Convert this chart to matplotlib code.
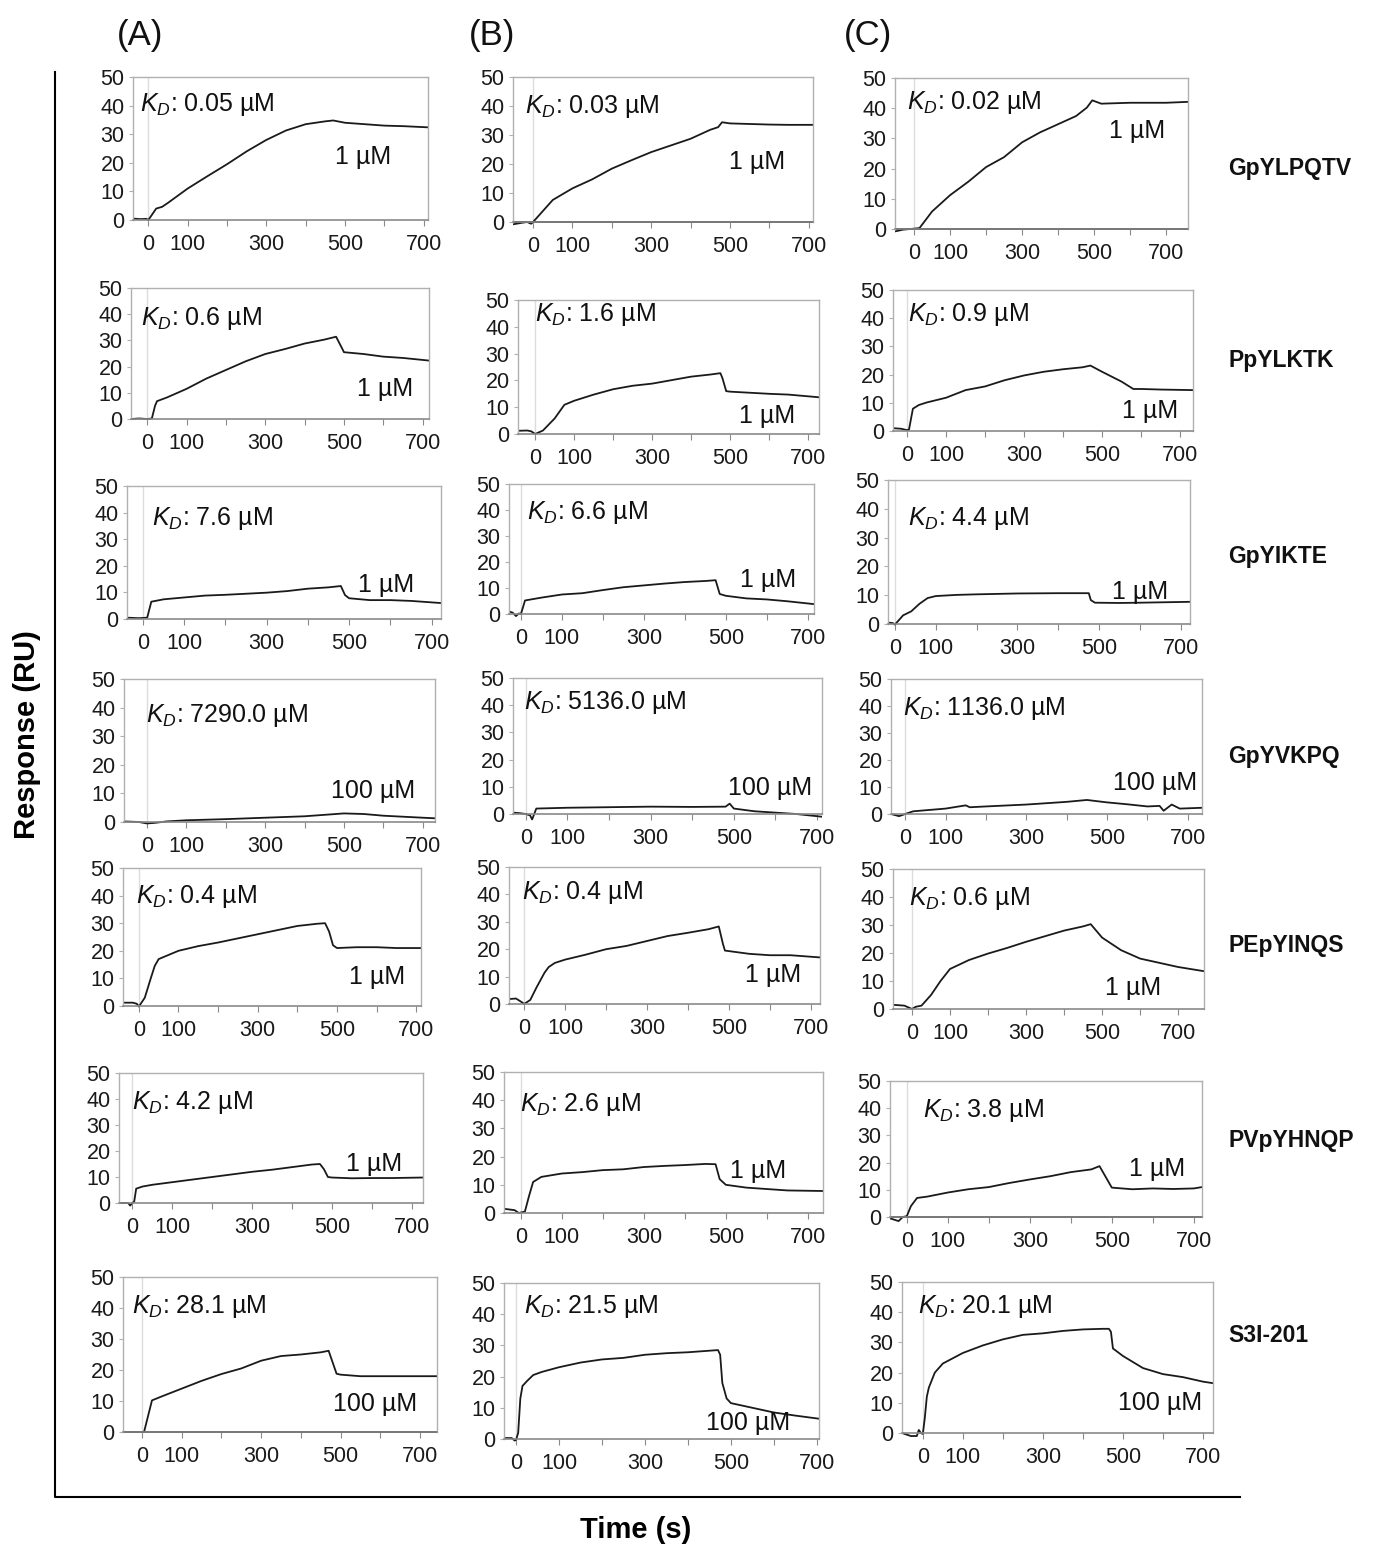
"""SPR sensorgrams, 7 peptides x 3 proteins"""

import matplotlib.pyplot as plt
import matplotlib.ticker as ticker
from matplotlib.lines import Line2D

W, H = 1385, 1546

peptides = ["GpYLPQTV", "PpYLKTK", "GpYIKTE", "GpYVKPQ", "PEpYINQS", "PVpYHNQP", "S3I-201"]
columns = ["(A)", "(B)", "(C)"]
kd_A = ["0.05", "0.6", "7.6", "7290.0", "0.4", "4.2", "28.1"]
kd_B = ["0.03", "1.6", "6.6", "5136.0", "0.4", "2.6", "21.5"]
kd_C = ["0.02", "0.9", "4.4", "1136.0", "0.6", "3.8", "20.1"]
conc = ["1 µM", "1 µM", "1 µM", "100 µM", "1 µM", "1 µM", "100 µM"]
x_labels = [0, 100, 300, 500, 700]

# sensorgrams: time (s), response (RU)
t_A1 = [-39, -20, -5, 0, 10, 20, 35, 50, 100, 150, 200, 250, 300, 350, 400, 450, 470, 500, 550, 600, 650, 711]
ru_A1 = [0.5, 0.3, 0.4, 0, 2, 4, 4.6, 6, 11, 15.3, 19.5, 24, 28, 31.3, 33.5, 34.5, 34.8, 34, 33.5, 33, 32.8, 32.4]
t_B1 = [-51, -30, -15, -5, 0, 50, 100, 150, 200, 250, 300, 350, 400, 450, 470, 480, 500, 550, 600, 650, 711]
ru_B1 = [-0.8, -0.3, 0, -0.6, 0, 7.6, 11.6, 14.7, 18.4, 21.3, 24.1, 26.4, 28.7, 31.8, 32.7, 34.4, 34, 33.8, 33.6, 33.5, 33.5]
t_C1 = [-53, -30, -10, 15, 50, 100, 150, 200, 250, 300, 350, 400, 450, 480, 495, 520, 600, 700, 761]
ru_C1 = [-0.8, -0.2, 0, 0.3, 5.8, 11.2, 15.6, 20.5, 23.8, 28.7, 32, 34.7, 37.4, 40.2, 42.6, 41.5, 41.8, 41.8, 42.1]

t_A2 = [-41, -20, 0, 12, 20, 25, 50, 100, 150, 200, 250, 300, 350, 400, 450, 480, 495, 500, 550, 600, 650, 716]
ru_A2 = [0, 0.2, 0, 0.2, 5, 6.8, 8.2, 11.5, 15.4, 18.7, 22, 24.8, 26.7, 28.8, 30.3, 31.4, 27, 25.5, 24.8, 23.8, 23.3, 22.3]
t_B2 = [-44, -20, -10, 0, 20, 50, 75, 100, 150, 200, 250, 300, 350, 400, 450, 475, 480, 490, 500, 550, 600, 650, 728]
ru_B2 = [1.2, 1.3, 1, 0, 1.3, 5.8, 10.9, 12.4, 14.7, 16.7, 18, 18.8, 20.1, 21.4, 22.2, 22.7, 21, 16, 15.8, 15.4, 15, 14.7, 13.7]
t_C2 = [-36, -15, 0, 5, 15, 30, 50, 100, 150, 200, 250, 300, 350, 400, 450, 470, 500, 550, 580, 600, 650, 733]
ru_C2 = [1, 0.8, 0.3, 0.5, 7.9, 9.2, 10.1, 11.8, 14.5, 15.8, 18, 19.7, 21, 21.9, 22.6, 23.2, 21, 17.5, 14.9, 14.9, 14.7, 14.5]

t_A3 = [-39, -10, 10, 20, 50, 100, 150, 200, 250, 300, 350, 400, 450, 480, 490, 500, 550, 600, 650, 723]
ru_A3 = [0.5, 0.3, 0.5, 6.5, 7.4, 8.1, 8.8, 9.1, 9.5, 9.9, 10.5, 11.4, 11.9, 12.4, 9, 7.8, 7.1, 7.1, 6.8, 6]
t_B3 = [-29, -20, -12, -5, 0, 5, 10, 50, 100, 150, 200, 250, 300, 350, 400, 450, 475, 485, 500, 550, 600, 650, 715]
ru_B3 = [1, 0.5, -0.8, 0.2, 0, 2.5, 5.2, 6.3, 7.5, 8, 9.2, 10.3, 11, 11.7, 12.3, 12.7, 13, 7.7, 7, 6, 5.6, 4.9, 3.8]
t_C3 = [-17, -5, 0, 20, 40, 60, 80, 100, 150, 200, 300, 400, 475, 480, 490, 550, 600, 723]
ru_C3 = [0.5, 0.3, -0.2, 3, 4.4, 7, 9, 9.7, 10.1, 10.3, 10.6, 10.7, 10.7, 8.3, 7.4, 7.3, 7.4, 7.7]

t_A4 = [-58, -20, 0, 20, 50, 100, 200, 300, 400, 500, 550, 600, 700, 731]
ru_A4 = [0.2, 0, -0.5, -0.3, 0.2, 0.6, 1, 1.5, 2, 3, 2.8, 2.2, 1.5, 1.3]
t_B4 = [-31, -15, 0, 10, 15, 25, 100, 200, 300, 400, 480, 490, 500, 550, 600, 650, 712]
ru_B4 = [0.5, 0.3, 0, -0.5, -2, 2, 2.3, 2.5, 2.7, 2.6, 2.7, 3.8, 2, 1, 0.5, 0, -1]
t_C4 = [-35, -15, 0, 20, 100, 150, 160, 200, 300, 400, 450, 500, 550, 600, 630, 640, 660, 680, 735]
ru_C4 = [0, -0.8, 0, 1, 2, 3.2, 2.5, 2.8, 3.5, 4.5, 5.2, 4.3, 3.6, 2.8, 3, 1.2, 3.5, 2, 2.3]

t_A5 = [-40, -15, -5, 0, 15, 30, 40, 50, 75, 100, 150, 200, 250, 300, 350, 400, 450, 470, 480, 490, 500, 550, 600, 650, 712]
ru_A5 = [1.2, 1.2, 0.8, -0.2, 3, 10, 14.5, 17, 18.5, 20, 21.7, 23, 24.5, 26, 27.5, 29, 29.8, 30, 27, 22, 21, 21.3, 21.3, 21, 21]
t_B5 = [-37, -20, -5, 0, 15, 30, 50, 60, 75, 100, 150, 200, 250, 300, 350, 400, 450, 475, 485, 490, 500, 550, 600, 650, 722]
ru_B5 = [1.8, 2, 0.6, 0, 1.5, 6, 11.5, 13.5, 15, 16.2, 18, 20, 21.2, 23, 24.8, 26, 27.3, 28.3, 22, 19.5, 19.3, 18.3, 17.8, 17.8, 17]
t_C5 = [-50, -20, 0, 10, 25, 50, 75, 100, 150, 200, 250, 300, 350, 400, 450, 470, 500, 550, 600, 650, 700, 768]
ru_C5 = [1.5, 1.2, 0, 0.8, 1.2, 5, 10, 14.3, 17.5, 19.8, 21.8, 24, 26, 28, 29.5, 30.3, 25.5, 21, 18, 16.5, 15, 13.5]

t_A6 = [-33, -10, -5, 0, 5, 10, 25, 50, 100, 150, 200, 250, 300, 350, 400, 450, 470, 480, 490, 500, 550, 600, 650, 728]
ru_A6 = [0, 0, -1, 0, 0.5, 5.5, 6.3, 7, 8, 9, 10, 11, 12, 12.8, 13.8, 14.8, 15, 13, 10, 9.8, 9.5, 9.6, 9.6, 9.8]
t_B6 = [-41, -15, -5, 10, 20, 30, 50, 100, 150, 200, 250, 300, 350, 400, 450, 475, 485, 500, 550, 600, 650, 737]
ru_B6 = [1.5, 1, 0, 0.5, 6, 11, 12.8, 14, 14.5, 15.2, 15.5, 16.3, 16.7, 17, 17.4, 17.3, 12, 10, 9, 8.5, 8, 7.8]
t_C6 = [-41, -20, -10, 0, 10, 25, 50, 100, 150, 200, 250, 300, 350, 400, 450, 470, 500, 550, 600, 650, 700, 720]
ru_C6 = [-0.5, -1.5, 0, 0.3, 4, 7, 7.5, 9, 10.2, 11, 12.5, 13.8, 15, 16.5, 17.5, 18.7, 10.8, 10.2, 10.5, 10.3, 10.5, 11]

t_A7 = [-48, 5, 25, 50, 100, 150, 200, 250, 300, 350, 400, 450, 470, 490, 500, 550, 600, 650, 743]
ru_A7 = [0, 0, 10.2, 11.5, 14, 16.5, 18.7, 20.5, 23, 24.5, 25, 25.7, 26.2, 18.8, 18.5, 18, 18, 18, 18]
t_B7 = [-28, -10, -3, 0, 5, 10, 15, 25, 40, 60, 100, 150, 200, 250, 300, 350, 400, 450, 470, 475, 480, 490, 500, 550, 600, 650, 705]
ru_B7 = [0.3, 0.3, -0.5, -0.3, 2, 13, 17, 18.5, 20.5, 21.5, 23, 24.5, 25.5, 26, 27, 27.5, 27.8, 28.3, 28.5, 27, 18, 13, 11.5, 10, 8.5, 7.5, 6.5]
t_C7 = [-52, -30, -15, -10, -5, 0, 5, 10, 15, 30, 50, 100, 150, 200, 250, 300, 350, 400, 450, 465, 470, 475, 500, 550, 600, 650, 700, 725]
ru_C7 = [0, -1, -1, 1, 0, -0.3, 5, 12, 15, 20, 23, 26.5, 29, 31, 32.5, 33, 33.8, 34.3, 34.5, 34.5, 33.5, 28, 25.5, 21.5, 19.5, 18.5, 17, 16.5]

series = [
    [(t_A1, ru_A1), (t_B1, ru_B1), (t_C1, ru_C1)],
    [(t_A2, ru_A2), (t_B2, ru_B2), (t_C2, ru_C2)],
    [(t_A3, ru_A3), (t_B3, ru_B3), (t_C3, ru_C3)],
    [(t_A4, ru_A4), (t_B4, ru_B4), (t_C4, ru_C4)],
    [(t_A5, ru_A5), (t_B5, ru_B5), (t_C5, ru_C5)],
    [(t_A6, ru_A6), (t_B6, ru_B6), (t_C6, ru_C6)],
    [(t_A7, ru_A7), (t_B7, ru_B7), (t_C7, ru_C7)],
]
kds = [kd_A, kd_B, kd_C]

# layout in pixels: (left, right, y of 50, y of 0), x limits
boxes = [
    [(133, 428, 77, 220), (513, 813, 77, 222), (895, 1188, 78, 229)],
    [(131, 429, 288, 419), (518, 819, 300, 434), (893, 1193, 290, 431)],
    [(127, 441, 486, 619), (509, 814, 484, 614), (888, 1190, 480, 624)],
    [(124, 435, 679, 822), (513, 822, 678, 814), (891, 1202, 679, 814)],
    [(123, 421, 868, 1006), (509, 820, 867, 1004), (893, 1204, 869, 1009)],
    [(119, 423, 1073, 1203), (504, 823, 1072, 1213), (890, 1202, 1081, 1217)],
    [(123, 437, 1277, 1432), (504, 819, 1283, 1439), (902, 1213, 1282, 1433)],
]
xlims = [
    [(-39, 711), (-51, 711), (-53, 761)],
    [(-41, 716), (-44, 728), (-36, 733)],
    [(-39, 723), (-29, 715), (-17, 723)],
    [(-58, 731), (-31, 712), (-35, 735)],
    [(-40, 712), (-37, 722), (-50, 768)],
    [(-33, 728), (-41, 737), (-41, 720)],
    [(-48, 743), (-28, 705), (-52, 725)],
]
kd_pos = [
    [(140, 105), (525, 107), (907, 103)],
    [(141, 319), (535, 314), (908, 314)],
    [(152, 519), (527, 512), (908, 519)],
    [(146, 716), (524, 702), (903, 708)],
    [(136, 897), (522, 893), (909, 898)],
    [(132, 1103), (520, 1104), (923, 1111)],
    [(132, 1307), (524, 1307), (918, 1307)],
]
conc_pos = [
    [(363, 157), (757, 162), (1137, 131)],
    [(385, 389), (767, 416), (1150, 411)],
    [(386, 585), (768, 580), (1140, 592)],
    [(373, 791), (770, 788), (1155, 783)],
    [(377, 977), (773, 975), (1133, 988)],
    [(374, 1164), (758, 1171), (1157, 1169)],
    [(375, 1404), (748, 1423), (1160, 1403)],
]
dark_zero = {(0, 1), (0, 2), (5, 2), (6, 0)}
row_label_y = [168, 360, 557, 757, 945, 1140, 1335]
col_header_x = [140, 492, 868]

YMIN = -3


def load_style():
    plt.rcParams["font.family"] = ["Liberation Sans", "DejaVu Sans"]
    plt.rcParams["mathtext.fontset"] = "custom"
    plt.rcParams["mathtext.it"] = "Liberation Sans:italic"
    plt.rcParams["mathtext.rm"] = "Liberation Sans"


def fx(x):
    return x / W


def fy(y):
    return 1 - y / H


def draw_panel(fig, box, xlim, t, ru, zero_line):
    left, right, top, y0 = box
    bottom = y0 + (-YMIN) * (y0 - top) / 50
    ax = fig.add_axes([fx(left), fy(bottom), (right - left) / W, (bottom - top) / H])
    ax.set_xlim(*xlim)
    ax.set_ylim(YMIN, 50)
    ax.axvline(0, ymin=-YMIN / (50 - YMIN), ymax=1, color="#dcdcdc", lw=1)
    if zero_line:
        ax.axhline(0, color="#222222", lw=1.4)
    ax.plot(t, ru, color="#1a1a1a", lw=1.3)

    for side in ["left", "right", "top"]:
        ax.spines[side].set_color("#b0b0b0")
        ax.spines[side].set_linewidth(1)
    ax.spines["left"].set_bounds(0, 50)
    ax.spines["right"].set_bounds(0, 50)
    ax.spines["bottom"].set_position(("data", 0))
    ax.spines["bottom"].set_color("#8a8a8a")
    ax.spines["bottom"].set_linewidth(1.2)

    ax.xaxis.set_major_locator(ticker.MultipleLocator(100))
    ax.xaxis.set_major_formatter(ticker.FuncFormatter(
        lambda v, p: f"{int(round(v))}" if int(round(v)) in x_labels else ""))
    ax.yaxis.set_major_locator(ticker.MultipleLocator(10))
    ax.tick_params(axis="x", direction="out", length=4, color="#8a8a8a",
                   labelsize=15.5, pad=6, labelcolor="#1a1a1a")
    ax.tick_params(axis="y", direction="out", length=3, color="#b0b0b0",
                   labelsize=15.5, pad=3, labelcolor="#1a1a1a")
    ax.set_facecolor("none")
    return ax


def create_chart(fig):
    for i in range(7):
        for j in range(3):
            t, ru = series[i][j]
            draw_panel(fig, boxes[i][j], xlims[i][j], t, ru, (i, j) in dark_zero)
            kx, ky = kd_pos[i][j]
            fig.text(fx(kx), fy(ky), r"$K_D$: " + kds[j][i] + " µM",
                     fontsize=18, ha="left", va="center", color="#111111")
            cx, cy = conc_pos[i][j]
            fig.text(fx(cx), fy(cy), conc[i], fontsize=18, ha="center",
                     va="center", color="#111111")
        fig.text(fx(1228), fy(row_label_y[i]), peptides[i], fontsize=16.5,
                 fontweight="bold", ha="left", va="center", color="#111111")

    for j in range(3):
        fig.text(fx(col_header_x[j]), fy(35), columns[j], fontsize=25,
                 ha="center", va="center", color="#111111")

    fig.add_artist(Line2D([fx(55), fx(55), fx(1240)], [fy(72), fy(1497), fy(1497)],
                          color="black", lw=1.5))
    fig.text(fx(27), fy(735), "Response (RU)", rotation=90, fontsize=21,
             fontweight="bold", ha="center", va="center")
    fig.text(fx(636), fy(1530), "Time (s)", fontsize=21, fontweight="bold",
             ha="center", va="center")


if __name__ == "__main__":
    load_style()
    fig = plt.figure(figsize=(W / 100, H / 100), dpi=100)
    create_chart(fig)
    fig.savefig("out.png", dpi=100)
